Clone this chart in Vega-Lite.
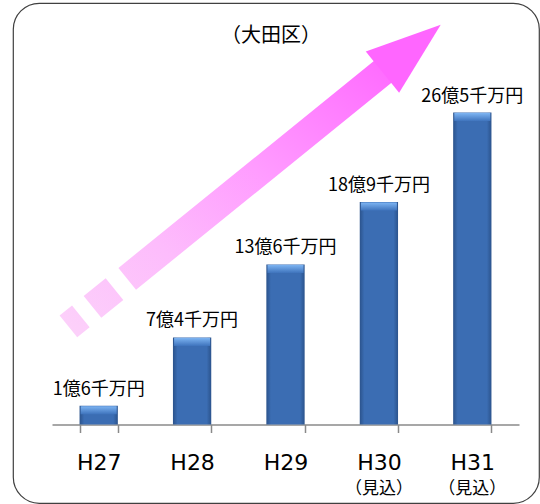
{
  "$schema": "https://vega.github.io/schema/vega-lite/v6.json",
  "width": 526,
  "height": 500,
  "autosize": {"type": "none"},
  "padding": {"left": 13, "top": 3, "right": 1, "bottom": 1},
  "background": "white",
  "title": {"text": "（大田区）", "fontSize": 20, "fontWeight": "normal", "color": "#000000", "anchor": "middle", "frame": "group", "offset": -30, "baseline": "middle", "dx": -5, "dy": 23},
  "config": {
    "font": "Noto Sans CJK JP",
    "view": {"stroke": "#404040", "strokeWidth": 1.2, "cornerRadius": 26}
  },
  "datasets": {
    "bars": [
      {"year": "H27", "value": 1.6, "label": "1億6千万円", "note": ""},
      {"year": "H28", "value": 7.4, "label": "7億4千万円", "note": ""},
      {"year": "H29", "value": 13.6, "label": "13億6千万円", "note": ""},
      {"year": "H30", "value": 18.9, "label": "18億9千万円", "note": "（見込）"},
      {"year": "H31", "value": 26.5, "label": "26億5千万円", "note": "（見込）"}
    ],
    "arrow": [
      {"ax": -0.3244, "ay": 8.33},
      {"ax": 3.0867, "ay": 30.25}
    ],
    "head": [
      {"ax": 3.35, "ay": 31.95}
    ]
  },
  "layer": [
    {
      "data": {"name": "arrow"},
      "mark": {
        "type": "line",
        "strokeWidth": 28,
        "strokeCap": "butt",
        "strokeDash": [16, 15, 28.3, 16.4, 2000],
        "stroke": {"gradient": "linear", "x1": 0, "y1": 1, "x2": 1, "y2": 0,
          "stops": [
            {"offset": 0, "color": "#fcd0fa"},
            {"offset": 0.3, "color": "#fdbcfc"},
            {"offset": 0.6, "color": "#ff9cff"},
            {"offset": 1, "color": "#ff6cff"}
          ]}
      },
      "encoding": {
        "x": {"field": "ax", "type": "quantitative", "scale": {"domain": [-0.5, 4.5], "range": [39, 506], "nice": false, "zero": false}, "axis": null},
        "y": {"field": "ay", "type": "quantitative", "scale": {"domain": [-6.67, 35.81], "nice": false, "zero": false}, "axis": null}
      }
    },
    {
      "data": {"name": "head"},
      "mark": {"type": "point", "shape": "M1,0L-1,-0.707L-1,0.707Z", "size": 5625, "angle": 321, "filled": true, "fill": "#ff66ff", "opacity": 1, "strokeWidth": 0},
      "encoding": {
        "x": {"field": "ax", "type": "quantitative", "scale": {"domain": [-0.5, 4.5], "range": [39, 506], "nice": false, "zero": false}, "axis": null},
        "y": {"field": "ay", "type": "quantitative", "scale": {"domain": [-6.67, 35.81], "nice": false, "zero": false}, "axis": null}
      }
    },
    {
      "data": {"name": "bars"},
      "encoding": {
        "x": {
          "field": "year", "type": "nominal", "sort": null,
          "scale": {"range": [39, 506], "paddingInner": 0.59, "paddingOuter": 0.295},
          "axis": {
            "title": null, "orient": "bottom", "offset": -78.5,
            "domainColor": "#8a8a8a", "domainWidth": 1.5,
            "tickColor": "#8a8a8a", "tickWidth": 1.5, "tickSize": 8, "tickBand": "extent",
            "labelFont": "DejaVu Sans", "labelFontSize": 22, "labelColor": "#000000", "labelPadding": 37,
            "labelBaseline": "alphabetic", "labelAngle": 0, "grid": false
          }
        }
      },
      "layer": [
        {
          "mark": {"type": "bar",
            "fill": {"gradient": "linear", "x1": 0, "y1": 0, "x2": 1, "y2": 0,
              "stops": [
                {"offset": 0, "color": "#2b538c"},
                {"offset": 0.12, "color": "#3b6db3"},
                {"offset": 0.88, "color": "#3b6db3"},
                {"offset": 1, "color": "#2b538c"}
              ]}
          },
          "encoding": {
            "y": {"field": "value", "type": "quantitative", "scale": {"domain": [-6.67, 35.81], "nice": false, "zero": false}, "axis": null}
          }
        },
        {
          "mark": {"type": "tick", "thickness": 8, "size": 36, "yOffset": 4.5, "opacity": 1,
            "fill": {"gradient": "linear", "x1": 0, "y1": 0, "x2": 0, "y2": 1,
              "stops": [
                {"offset": 0, "color": "#7db4f2"},
                {"offset": 1, "color": "#3f74bd"}
              ]}
          },
          "encoding": {
            "y": {"field": "value", "type": "quantitative", "scale": {"domain": [-6.67, 35.81], "nice": false, "zero": false}, "axis": null}
          }
        },
        {
          "mark": {"type": "text", "baseline": "alphabetic", "dy": -11, "fontSize": 18, "color": "#000000"},
          "encoding": {
            "y": {"field": "value", "type": "quantitative", "scale": {"domain": [-6.67, 35.81], "nice": false, "zero": false}, "axis": null},
            "text": {"field": "label"}
          }
        },
        {
          "mark": {"type": "text", "baseline": "middle", "fontSize": 17, "color": "#000000"},
          "encoding": {
            "y": {"datum": -5.5, "type": "quantitative", "scale": {"domain": [-6.67, 35.81], "nice": false, "zero": false}, "axis": null},
            "text": {"field": "note"}
          }
        }
      ]
    }
  ],
  "resolve": {"scale": {"x": "independent"}}
}
